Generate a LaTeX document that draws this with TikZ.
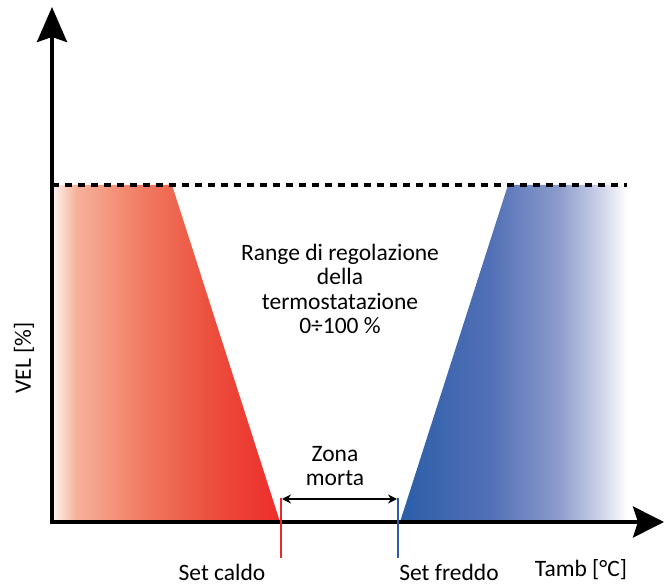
\documentclass[tikz,border=0pt]{standalone}
\usepackage{fontspec}
\setmainfont{Carlito}
\usetikzlibrary{arrows.meta}
\definecolor{r0}{RGB}{254,244,240}
\definecolor{r1}{RGB}{246,178,154}
\definecolor{r2}{RGB}{241,122,96}
\definecolor{r3}{RGB}{236,78,60}
\definecolor{r4}{RGB}{238,44,44}
\definecolor{b0}{RGB}{43,94,168}
\definecolor{b1}{RGB}{82,112,182}
\definecolor{b2}{RGB}{140,156,204}
\definecolor{b3}{RGB}{212,216,236}
\definecolor{b4}{RGB}{255,255,255}
\definecolor{redline}{RGB}{232,40,44}
\definecolor{blueline}{RGB}{44,92,168}
\pgfdeclarehorizontalshading{redsh}{100bp}{color(0bp)=(r0); color(25bp)=(r0); color(30bp)=(r1); color(45bp)=(r2); color(60bp)=(r3); color(75bp)=(r4); color(100bp)=(r4)}
\pgfdeclarehorizontalshading{bluesh}{100bp}{color(0bp)=(b0); color(25bp)=(b0); color(45bp)=(b1); color(60bp)=(b2); color(70bp)=(b3); color(75bp)=(b4); color(100bp)=(b4)}
\begin{document}
\begin{tikzpicture}[x=1pt,y=-1pt,
  lbl/.style={font=\fontsize{23.5}{24.5}\selectfont, inner sep=0pt, align=center},
  axis/.style={line width=4pt},
  marker/.style={line width=1.6pt}]
\useasboundingbox (0,0) rectangle (664,585);
% shaded regions
\shade[shading=redsh]
  (53,185) -- (172,185) -- (280,522) -- (53,522) -- cycle;
\shade[shading=bluesh]
  (400,522) -- (508,185) -- (627,185) -- (627,522) -- cycle;
% coordinates
\coordinate (O) at (50,522);
\coordinate (O2) at (52,524);
\coordinate (ytop) at (52,7);
\coordinate (xend) at (664,522);
\coordinate (d1) at (52,185);
\coordinate (d2) at (627,185);
\coordinate (sc1) at (281,498);
\coordinate (sc2) at (281,558);
\coordinate (sf1) at (398,498);
\coordinate (sf2) at (398,558);
\coordinate (z1) at (282,499);
\coordinate (z2) at (397,499);
% dashed line
\draw[line width=3.4pt, dash pattern=on 7pt off 6pt] (d1) -- (d2);
% axes
\draw[axis, -{Stealth[length=35pt,width=30pt,inset=5pt]}] (O2) -- (ytop);
\draw[axis, -{Stealth[length=31pt,width=31pt,inset=5pt]}] (O) -- (xend);
% markers
\draw[marker, draw=redline] (sc1) -- (sc2);
\draw[marker, draw=blueline] (sf1) -- (sf2);
\draw[line width=1.6pt, {Stealth[length=9pt,width=9pt]}-{Stealth[length=9pt,width=9pt]}] (z1) -- (z2);
% labels
\node[lbl] (zona) at (335,466) {Zona\\morta};
\node[lbl] (range) at (340,289) {Range di regolazione\\della\\termostatazione\\0÷100 \%};
\node[lbl] (caldo) at (222,572) {Set caldo};
\node[lbl] (freddo) at (449,572) {Set freddo};
\node[lbl] (tamb) at (581,570) {Tamb [°C]};
\node[lbl, rotate=90] (vel) at (24,358) {VEL [\%]};
\end{tikzpicture}
\end{document}
